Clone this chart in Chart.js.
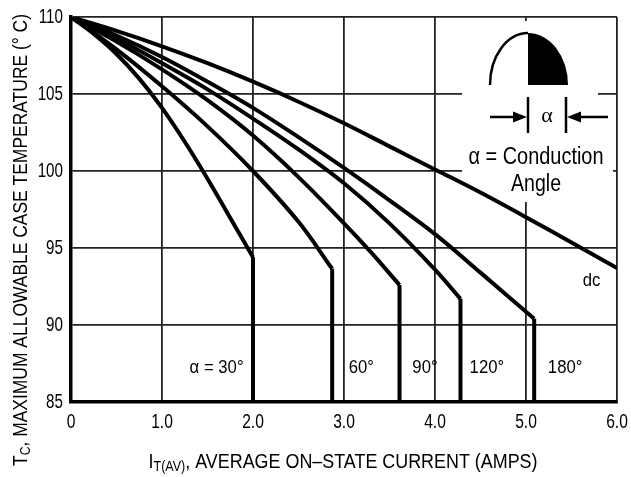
<!DOCTYPE html>
<html>
<head>
<meta charset="utf-8">
<script src="https://cdn.jsdelivr.net/npm/chart.js@4.4.0/dist/chart.umd.min.js"></script>
<style>
  html, body { margin: 0; padding: 0; background: #fff; }
</style>
</head>
<body>
<canvas id="myChart" width="631" height="477"></canvas>
<script>
// curve data (amps vs max case temp)
const amps30 = [0, 0.25, 0.5, 0.75, 1.0, 1.25, 1.5, 1.75, 2.0];
const temp30 = [110, 108.9, 107.6, 106.0, 104.1, 101.9, 99.5, 96.95, 94.4];

const amps60 = [0, 0.5, 1.0, 1.5, 2.0, 2.5, 2.87];
const temp60 = [110, 107.9, 105.5, 102.9, 100.0, 96.7, 93.65];

const amps90 = [0, 0.5, 1.0, 1.5, 2.0, 2.5, 3.0, 3.3, 3.61];
const temp90 = [110, 108.4, 106.6, 104.6, 102.3, 99.6, 96.6, 94.7, 92.6];

const amps120 = [0, 0.5, 1.0, 1.5, 2.0, 2.5, 3.0, 3.5, 4.0, 4.28];
const temp120 = [110, 108.6, 107.0, 105.3, 103.4, 101.4, 99.2, 96.6, 93.6, 91.7];

const amps180 = [0, 0.5, 1.0, 1.5, 2.0, 2.5, 3.0, 3.5, 4.0, 4.5, 5.09];
const temp180 = [110, 108.8, 107.4, 105.8, 104.1, 102.2, 100.2, 98.1, 95.9, 93.4, 90.4];

const ampsDc = [0, 0.5, 1.0, 1.5, 2.0, 2.5, 3.0, 3.5, 4.0, 4.5, 5.0, 5.5, 6.0];
const tempDc = [110, 109.1, 108.1, 107.0, 105.8, 104.5, 103.1, 101.6, 100.1, 98.6, 97.0, 95.35, 93.7];

const xTicks = [0, 1, 2, 3, 4, 5, 6];
const xTickLabels = ['0', '1.0', '2.0', '3.0', '4.0', '5.0', '6.0'];
const yTicks = [85, 90, 95, 100, 105, 110];
const yTickLabels = ['85', '90', '95', '100', '105', '110'];

// curve labels: text, amps, temp
const curveLabels = [
  ['\u03b1 = 30\u00b0', 1.6, 87.25],
  ['60\u00b0', 3.19, 87.25],
  ['90\u00b0', 3.89, 87.25],
  ['120\u00b0', 4.57, 87.25],
  ['180\u00b0', 5.43, 87.25],
  ['dc', 5.72, 92.9]
];

const FONT = '"Liberation Sans", Arial, sans-serif';

function pts(xs, ys) {
  return xs.map((x, i) => ({ x: x, y: ys[i] }));
}

const curves = [[amps30, temp30], [amps60, temp60], [amps90, temp90], [amps120, temp120], [amps180, temp180], [ampsDc, tempDc]];

const datasets = [];
curves.forEach(c => {
  datasets.push({
    data: pts(c[0], c[1]),
    borderColor: '#000',
    borderWidth: 4,
    pointRadius: 0,
    fill: false,
    tension: 0.35
  });
  // vertical drop at the end of each conduction-angle curve
  const n = c[0].length - 1;
  if (c[0][n] < 6) {
    datasets.push({
      data: [{ x: c[0][n], y: c[1][n] }, { x: c[0][n], y: 85 }],
      borderColor: '#000',
      borderWidth: 4,
      pointRadius: 0,
      fill: false,
      tension: 0
    });
  }
});

// condensed text: squeeze horizontally
function condText(ctx, t, x, y, size, align, sx) {
  ctx.save();
  ctx.font = size + 'px ' + FONT;
  ctx.translate(x, y);
  ctx.scale(sx, 1);
  ctx.textAlign = align;
  ctx.textBaseline = 'middle';
  ctx.fillText(t, 0, 0);
  ctx.restore();
}

// draws text fitted to a target width, with optional subscript parts
function drawFitted(ctx, parts, cx, cy, targetW, rot) {
  let w = 0;
  parts.forEach(p => { ctx.font = p.size + 'px ' + FONT; w += ctx.measureText(p.t).width; });
  const k = targetW / w;
  ctx.save();
  ctx.translate(cx, cy);
  ctx.rotate(rot);
  ctx.scale(k, 1);
  let x = -w / 2;
  ctx.textBaseline = 'middle';
  ctx.textAlign = 'left';
  parts.forEach(p => {
    ctx.font = p.size + 'px ' + FONT;
    ctx.fillText(p.t, x, p.dy || 0);
    x += ctx.measureText(p.t).width;
  });
  ctx.restore();
}

const maskPlugin = {
  id: 'mask',
  beforeDatasetsDraw(chart) {
    const ctx = chart.ctx;
    ctx.save();
    ctx.fillStyle = '#fff';
    ctx.beginPath();
    ctx.moveTo(462, 21);
    ctx.lineTo(598, 21);
    ctx.lineTo(598, 140);
    ctx.lineTo(613, 140);
    ctx.lineTo(613, 202);
    ctx.lineTo(462, 202);
    ctx.closePath();
    ctx.fill();
    ctx.restore();
  }
};

const decoPlugin = {
  id: 'deco',
  afterDraw(chart) {
    const ctx = chart.ctx;
    const xs = chart.scales.x, ys = chart.scales.y;
    const area = chart.chartArea;
    ctx.save();
    ctx.fillStyle = '#000';
    ctx.strokeStyle = '#000';

    // tick labels
    xTicks.forEach((v, i) => {
      condText(ctx, xTickLabels[i], xs.getPixelForValue(v), area.bottom + 20, 20, 'center', 0.78);
    });
    yTicks.forEach((v, i) => {
      condText(ctx, yTickLabels[i], area.left - 8, ys.getPixelForValue(v), 20, 'right', 0.76);
    });

    // curve labels
    curveLabels.forEach(l => {
      condText(ctx, l[0], xs.getPixelForValue(l[1]), ys.getPixelForValue(l[2]), 19, 'center', 0.88);
    });

    // inset: half-wave with shaded conduction part
    ctx.lineWidth = 2.5;
    ctx.beginPath();
    ctx.ellipse(528, 85, 38, 52, 0, Math.PI, 1.5 * Math.PI);
    ctx.stroke();
    ctx.beginPath();
    ctx.moveTo(528, 85);
    ctx.lineTo(528, 33);
    ctx.ellipse(528, 85, 40, 52, 0, 1.5 * Math.PI, 2 * Math.PI);
    ctx.closePath();
    ctx.fill();

    ctx.lineWidth = 2.5;
    ctx.beginPath();
    ctx.moveTo(528, 97); ctx.lineTo(528, 133);
    ctx.moveTo(566, 97); ctx.lineTo(566, 133);
    ctx.moveTo(490, 117); ctx.lineTo(518, 117);
    ctx.moveTo(608, 117); ctx.lineTo(576, 117);
    ctx.stroke();
    ctx.beginPath();
    ctx.moveTo(527, 117); ctx.lineTo(513, 111.5); ctx.lineTo(513, 122.5); ctx.closePath();
    ctx.moveTo(567, 117); ctx.lineTo(581, 111.5); ctx.lineTo(581, 122.5); ctx.closePath();
    ctx.fill();

    ctx.font = '22px "Liberation Serif", serif';
    ctx.textAlign = 'center';
    ctx.textBaseline = 'middle';
    ctx.fillText('\u03b1', 547, 116);
    drawFitted(ctx, [{ t: '\u03b1 = Conduction', size: 23 }], 536, 158, 135, 0);
    drawFitted(ctx, [{ t: 'Angle', size: 23 }], 536, 185, 50, 0);

    // axis titles (with subscripts)
    drawFitted(ctx, [
      { t: 'T', size: 20 },
      { t: 'C', size: 14, dy: 5 },
      { t: ', MAXIMUM ALLOWABLE CASE TEMPERATURE (\u00b0 C)', size: 20 }
    ], 21, 240, 452, -Math.PI / 2);

    drawFitted(ctx, [
      { t: 'I', size: 20 },
      { t: 'T(AV)', size: 14, dy: 5 },
      { t: ', AVERAGE ON\u2013STATE CURRENT (AMPS)', size: 20 }
    ], 343, 462, 389, 0);

    ctx.restore();
  }
};

var ctx = document.getElementById('myChart').getContext('2d');
var myChart = new Chart(ctx, {
  type: 'line',
  data: { datasets: datasets },
  options: {
    responsive: false,
    animation: false,
    layout: { padding: { top: 17, right: 14, left: 0, bottom: 0 } },
    plugins: { legend: { display: false }, tooltip: { enabled: false } },
    scales: {
      x: {
        type: 'linear',
        min: 0, max: 6,
        afterBuildTicks: (axis) => { axis.ticks = xTicks.map(v => ({ value: v })); },
        afterFit: (axis) => { axis.height = 75; },
        ticks: { display: false },
        grid: { color: '#222', lineWidth: 1.8, drawTicks: false },
        border: { color: '#000', width: 3.5 }
      },
      y: {
        type: 'linear',
        min: 85, max: 110,
        afterBuildTicks: (axis) => { axis.ticks = yTicks.map(v => ({ value: v })); },
        afterFit: (axis) => { axis.width = 71; },
        ticks: { display: false },
        grid: { color: '#222', lineWidth: 1.8, drawTicks: false },
        border: { color: '#000', width: 3.5 }
      }
    }
  },
  plugins: [maskPlugin, decoPlugin]
});
</script>
</body>
</html>
